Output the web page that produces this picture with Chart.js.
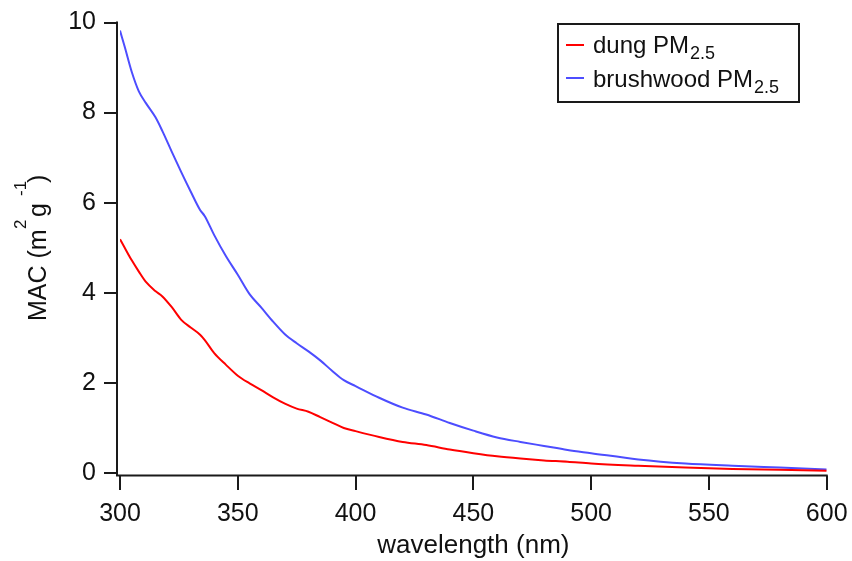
<!DOCTYPE html>
<html><head><meta charset="utf-8">
<script src="https://cdn.jsdelivr.net/npm/chart.js@4/dist/chart.umd.min.js"></script>
<style>html,body{margin:0;padding:0;background:#fff;}#wrap{width:852px;height:561px;}</style>
</head><body><div id="wrap"><canvas id="c" width="852" height="561"></canvas></div>
<script>
const wavelength = [300,302,305,308,311,315,318,322,326,330,334,336,340,345,350,355,360,365,370,375,380,385,390,395,400,410,420,430,440,450,460,470,480,490,500,520,540,560,580,600];
const dungMAC = [5.19,5.00,4.72,4.47,4.24,4.04,3.92,3.68,3.40,3.23,3.07,2.95,2.66,2.40,2.16,1.99,1.84,1.68,1.54,1.43,1.36,1.24,1.12,1.00,0.93,0.80,0.69,0.62,0.52,0.44,0.37,0.32,0.28,0.25,0.21,0.16,0.12,0.09,0.07,0.05];
const brushwoodMAC = [9.82,9.46,8.90,8.47,8.21,7.90,7.59,7.13,6.68,6.25,5.84,5.70,5.28,4.81,4.40,3.97,3.67,3.36,3.08,2.88,2.70,2.50,2.27,2.06,1.93,1.67,1.45,1.30,1.11,0.94,0.79,0.69,0.60,0.51,0.44,0.30,0.21,0.16,0.12,0.08];
const xTickValues = [300,350,400,450,500,550,600];
const yTickValues = [0,2,4,6,8,10];
const seriesNames = ["dung PM", "brushwood PM"];
const subscript = "2.5";
const xTitle = "wavelength (nm)";

const FONT = '"Liberation Sans", Arial, sans-serif';
const INK = '#111111';
const RED = '#ff0000';
const BLUE = '#4d4dff';

Chart.defaults.font.family = FONT;
Chart.defaults.font.size = 25;
Chart.defaults.color = INK;

function noPad(s) { s.paddingTop = 0; s.paddingBottom = 0; s.paddingLeft = 0; s.paddingRight = 0; }

const axesPlugin = {
  id: 'igorAxes',
  afterDraw(chart) {
    const ctx = chart.ctx, xs = chart.scales.x, ys = chart.scales.y, ca = chart.chartArea;
    const axX = Math.round(ca.left) - 3, axY = Math.round(ca.bottom) + 2.5;
    ctx.save();
    ctx.strokeStyle = '#1a1a1a';
    ctx.lineWidth = 2;
    ctx.beginPath();
    ctx.moveTo(axX, ys.getPixelForValue(ys.max) - 1);
    ctx.lineTo(axX, axY + 1);
    yTickValues.forEach(v => { const y = Math.round(ys.getPixelForValue(v)); ctx.moveTo(axX - 13, y); ctx.lineTo(axX, y); });
    ctx.moveTo(axX - 1, axY);
    ctx.lineTo(xs.getPixelForValue(xs.max) + 1, axY);
    xTickValues.forEach(v => { const x = Math.round(xs.getPixelForValue(v)); ctx.moveTo(x, axY); ctx.lineTo(x, axY + 14.5); });
    ctx.stroke();

    // y axis title with superscripts
    ctx.translate(46, 321);
    ctx.rotate(-Math.PI / 2);
    ctx.fillStyle = INK;
    ctx.textBaseline = 'alphabetic';
    ctx.textAlign = 'left';
    ctx.font = '25px ' + FONT;
    ctx.fillText('MAC (m', 0, 0);
    ctx.fillText('g', 104, 0);
    ctx.fillText(')', 138, 0);
    ctx.font = '17px ' + FONT;
    ctx.fillText('2', 92, -20);
    ctx.fillText('-1', 125, -20);
    ctx.restore();

    // legend
    ctx.save();
    ctx.strokeStyle = '#1a1a1a';
    ctx.lineWidth = 2;
    ctx.strokeRect(558, 24, 241, 78);
    const rows = [{c: RED, y: 45, base: 52.5}, {c: BLUE, y: 78, base: 86.5}];
    rows.forEach((r, i) => {
      ctx.strokeStyle = r.c;
      ctx.lineWidth = 2;
      ctx.beginPath(); ctx.moveTo(566, r.y); ctx.lineTo(584, r.y); ctx.stroke();
      ctx.fillStyle = INK;
      ctx.textBaseline = 'alphabetic';
      ctx.textAlign = 'left';
      ctx.font = '24px ' + FONT;
      ctx.fillText(seriesNames[i], 593, r.base);
      const w = ctx.measureText(seriesNames[i]).width;
      ctx.font = '18px ' + FONT;
      ctx.fillText(subscript, 593 + w + 1, r.base + 6);
    });
    ctx.restore();
  }
};

new Chart(document.getElementById('c'), {
  type: 'line',
  data: {
    labels: wavelength,
    datasets: [
      {label: seriesNames[0] + subscript, data: wavelength.map((w, i) => ({x: w, y: dungMAC[i]})), borderColor: RED, borderWidth: 2, pointRadius: 0, fill: false, cubicInterpolationMode: 'monotone'},
      {label: seriesNames[1] + subscript, data: wavelength.map((w, i) => ({x: w, y: brushwoodMAC[i]})), borderColor: BLUE, borderWidth: 2, pointRadius: 0, fill: false, cubicInterpolationMode: 'monotone'}
    ]
  },
  options: {
    responsive: false,
    animation: false,
    devicePixelRatio: 1,
    layout: {padding: {left: 0, right: 25.3, top: 22.5, bottom: 0}},
    plugins: {legend: {display: false}, tooltip: {enabled: false}},
    scales: {
      x: {
        type: 'linear', min: 300, max: 600,
        afterBuildTicks(s) { s.ticks = xTickValues.map(v => ({value: v})); },
        afterFit(s) { s.height = 88; noPad(s); },
        grid: {display: false, drawTicks: false},
        border: {display: false},
        ticks: {padding: 26, maxRotation: 0, font: {size: 25}},
        title: {display: true, text: xTitle, font: {size: 26}, padding: {top: 0, bottom: 0}}
      },
      y: {
        type: 'linear', min: 0, max: 10,
        afterBuildTicks(s) { s.ticks = yTickValues.map(v => ({value: v})); },
        afterFit(s) { s.width = 120; noPad(s); },
        grid: {display: false, drawTicks: false},
        border: {display: false},
        ticks: {padding: 24, font: {size: 25}}
      }
    }
  },
  plugins: [axesPlugin]
});
</script></body></html>
